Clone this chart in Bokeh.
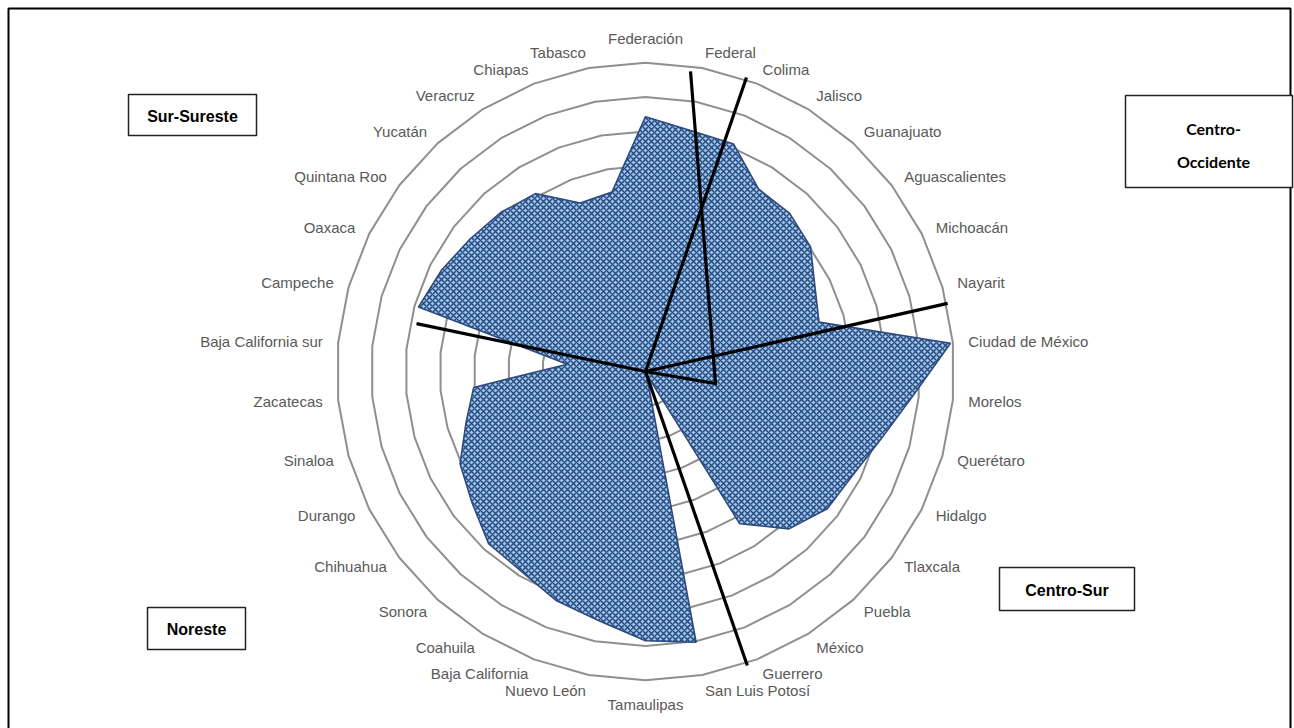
import numpy as np
from bokeh.plotting import figure
from bokeh.models import Range1d
from bokeh.core.properties import value
from bokeh.embed import file_html
from bokeh.resources import INLINE

# ---------------- data ----------------
categories = ["Federación", "Federal", "Colima", "Jalisco", "Guanajuato", "Aguascalientes",
              "Michoacán", "Nayarit", "Ciudad de México", "Morelos", "Querétaro", "Hidalgo",
              "Tlaxcala", "Puebla", "México", "Guerrero", "San Luis Potosí", "Tamaulipas",
              "Nuevo León", "Baja California", "Coahuila", "Sonora", "Chihuahua", "Durango",
              "Sinaloa", "Zacatecas", "Baja California sur", "Campeche", "Oaxaca",
              "Quintana Roo", "Yucatán", "Veracruz", "Chiapas", "Tabasco"]
values = [7.43, 7.15, 7.11, 6.26, 6.24, 6.03,
          5.52, 5.26, 8.93, 7.82, 7.15, 6.76,
          6.64, 6.21, 5.22, 0.08, 8.03, 7.85,
          7.39, 7.17, 6.86, 6.79, 6.34, 6.04,
          5.44, 5.03, 2.29, 6.88, 6.64,
          6.41, 6.27, 6.10, 5.27, 5.32]
ring_levels = [1, 2, 3, 4, 5, 6, 7, 8, 9]

# region divider lines (polar: angle in degrees clockwise from top, radius in axis units)
divider_angles = [[8.53, 99.7, 0.0], [18.96, 0.0], [77.3, 0.0], [160.9, 0.0], [281.8, 0.0]]
divider_radii = [[8.85, 2.07, 0.0], [9.06, 0.0], [9.03, 0.0], [9.07, 0.0], [6.82, 0.0]]

regions = ["Sur-Sureste", "Centro-Sur", "Noreste"]

# ---------------- layout ----------------
W, H = 1294, 728
CX, CY = 645, 371      # centre of the radar (pixels)
U = 34.3               # pixels per axis unit
LABEL_R = 9.45

n = len(categories)
theta = np.arange(n) * 2 * np.pi / n


def polar(v, ang):
    return CX + np.asarray(v) * U * np.sin(ang), CY - np.asarray(v) * U * np.cos(ang)


p = figure(width=W, height=H, x_range=Range1d(0, W), y_range=Range1d(H, 0),
           output_backend="svg", toolbar_location=None, min_border=0,
           x_axis_type=None, y_axis_type=None)
p.grid.visible = False
p.outline_line_color = None
p.background_fill_color = "white"
p.border_fill_color = "white"

# chart border
p.quad(left=[8], right=[1290], top=[8], bottom=[760], fill_color=None,
       line_color="black", line_width=2)

# grid rings (polygons)
ring_xs, ring_ys = [], []
for lv in ring_levels:
    x, y = polar(np.full(n + 1, lv), np.append(theta, theta[0]))
    ring_xs.append(list(x))
    ring_ys.append(list(y))
p.multi_line(ring_xs, ring_ys, line_color="#8F8F8F", line_width=2)

# data polygon
px_, py_ = polar(values, theta)
p.patch(list(px_), list(py_), fill_color="#9DC3E6", hatch_pattern="diagonal_cross",
        hatch_color="#24467F", hatch_scale=6, hatch_weight=1.4,
        line_color="#2E4A7D", line_width=1.6)

# dividers
dxs, dys = [], []
for angs, rads in zip(divider_angles, divider_radii):
    a = np.radians(angs)
    x, y = polar(rads, a)
    dxs.append(list(x))
    dys.append(list(y))
p.multi_line(dxs, dys, line_color="black", line_width=3.2, line_join="miter")

# category labels
font = value("Liberation Sans")
for i, (cat, ang) in enumerate(zip(categories, theta)):
    lx, ly = polar(LABEL_R, ang)
    s, c = np.sin(ang), np.cos(ang)
    if abs(s) < 0.05:
        align = "center"
        base = "bottom" if c > 0 else "top"
    else:
        align = "left" if s > 0 else "right"
        base = "middle"
    p.text([float(lx)], [float(ly)], text=[cat], text_font=font, text_font_size="15px",
           text_color="#595959", text_align=align, text_baseline=base)

# region boxes
box_font = value("Liberation Sans")
boxes = [(128, 94, 256, 135), (999, 567, 1134, 610), (147, 607, 245, 649)]
for name, (x0, y0, x1, y1) in zip(regions, boxes):
    p.quad(left=[x0], right=[x1], top=[y0], bottom=[y1], fill_color="white",
           line_color="#222222", line_width=1.5)
    p.text([(x0 + x1) / 2], [(y0 + y1) / 2 + 1], text=[name], text_font=box_font,
           text_font_size="16px", text_font_style="bold", text_color="black",
           text_align="center", text_baseline="middle")

# Centro-Occidente box (two lines)
p.quad(left=[1125], right=[1292], top=[95], bottom=[187], fill_color="white",
       line_color="#222222", line_width=1.5)
p.text([1213, 1213], [128, 161], text=["Centro-", "Occidente"], text_font=value("Lato"),
       text_font_size="16px", text_font_style="bold", text_color="black",
       text_align="center", text_baseline="middle")

open("out.html", "w").write(file_html(p, INLINE))
